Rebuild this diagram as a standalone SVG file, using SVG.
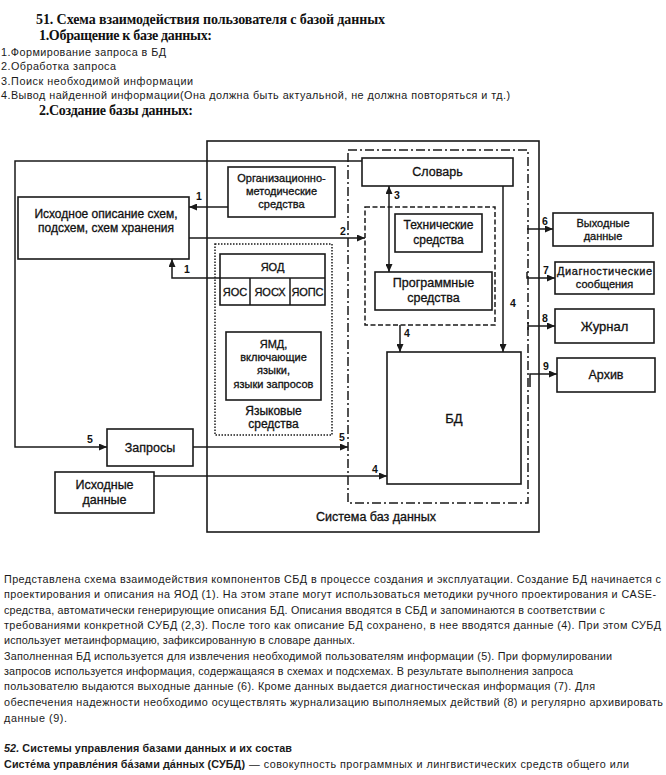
<svg xmlns="http://www.w3.org/2000/svg" width="666" height="775" viewBox="0 0 666 775">
<style>
.h{font-family:"Liberation Serif","Times New Roman",serif;font-weight:bold;font-size:14px;fill:#111}
.p{font-family:"Liberation Sans",Arial,sans-serif;font-size:10.8px;fill:#1a1a1a}
.b{fill:#fff;stroke:#1a1a1a;stroke-width:1.6}
.l{fill:none;stroke:#1a1a1a;stroke-width:1.5}
.t{font-family:"Liberation Sans",Arial,sans-serif;font-size:12px;fill:#111;stroke:#111;stroke-width:0.3;text-anchor:middle}
.s{font-size:11px}
.n{font-family:"Liberation Sans",Arial,sans-serif;font-size:10.5px;font-weight:bold;fill:#111}
</style>
<defs>
<marker id="a" markerUnits="userSpaceOnUse" markerWidth="9" markerHeight="7" refX="8" refY="3.5" orient="auto"><path d="M0,0 L8,3.5 L0,7 Z" fill="#1a1a1a"/></marker>
<marker id="as" markerUnits="userSpaceOnUse" markerWidth="9" markerHeight="7" refX="0" refY="3.5" orient="auto"><path d="M8,0 L0,3.5 L8,7 Z" fill="#1a1a1a"/></marker>
</defs>
<rect width="666" height="775" fill="#fff"/>

<g id="header">
<text class="h" x="36" y="24" textLength="349">51. Схема взаимодействия пользователя с базой данных</text>
<text class="h" x="39" y="40" textLength="173">1.Обращение к базе данных:</text>
<text class="p" x="1" y="56" textLength="165">1.Формирование запроса в БД</text>
<text class="p" x="1" y="70" textLength="115">2.Обработка запроса</text>
<text class="p" x="1" y="85" textLength="192">3.Поиск необходимой информации</text>
<text class="p" x="1" y="99" textLength="509">4.Вывод найденной  информации(Она должна быть актуальной, не должна повторяться и тд.)</text>
<text class="h" x="39" y="115" textLength="154">2.Создание базы данных:</text>
</g>

<g id="system">
<rect x="207" y="141" width="332" height="391" fill="none" stroke="#1a1a1a" stroke-width="1.6"/>
<text class="t" x="376" y="521" style="font-size:12.5px">Система баз данных</text>
</g>
<g id="dbms-core">
<rect x="348" y="150" width="180" height="353" fill="none" stroke="#1a1a1a" stroke-width="1.5" stroke-dasharray="9,3,2,3"/>
</g>
<g id="lang-tools">
<rect x="215" y="244" width="117" height="191" fill="none" stroke="#1a1a1a" stroke-width="1.5" stroke-dasharray="1.5,1.5"/>
<text class="t" x="273.5" y="415">Языковые</text>
<text class="t" x="273.5" y="428">средства</text>
</g>
<g id="hw-sw">
<rect x="365" y="207" width="130" height="118" fill="none" stroke="#1a1a1a" stroke-width="1.5" stroke-dasharray="5,2.5"/>
</g>

<g id="connectors">
<line class="l" x1="228" y1="207" x2="189" y2="207" marker-end="url(#a)"/>
<path class="l" d="M220,278 H172 V259" marker-end="url(#a)"/>
<line class="l" x1="189" y1="238" x2="365" y2="238" marker-end="url(#a)"/>
<line class="l" x1="389" y1="186" x2="389" y2="272" marker-start="url(#as)" marker-end="url(#a)"/>
<line class="l" x1="400" y1="325" x2="400" y2="352" marker-end="url(#a)"/>
<line class="l" x1="503" y1="186" x2="503" y2="352" marker-end="url(#a)"/>
<line class="l" x1="154" y1="476" x2="387" y2="476" marker-end="url(#a)"/>
<path class="l" d="M362,161 H15 V447 H107" marker-end="url(#a)"/>
<line class="l" x1="193" y1="447" x2="348" y2="447" marker-end="url(#a)"/>
<line class="l" x1="527" y1="229" x2="553" y2="229" marker-end="url(#a)"/>
<path class="l" d="M527,272 V278 H555" marker-end="url(#a)"/>
<path class="l" d="M528,322 V330"/>
<line class="l" x1="528" y1="326" x2="555" y2="326" marker-end="url(#a)"/>
<path class="l" d="M530,387 V374 H557" marker-end="url(#a)"/>
<text class="n" x="196" y="200">1</text>
<text class="n" x="184" y="273">1</text>
<text class="n" x="340" y="235">2</text>
<text class="n" x="394" y="199">3</text>
<text class="n" x="404" y="337">4</text>
<text class="n" x="510" y="307">4</text>
<text class="n" x="372" y="473">4</text>
<text class="n" x="87" y="443">5</text>
<text class="n" x="339" y="441">5</text>
<text class="n" x="542" y="225">6</text>
<text class="n" x="543" y="274">7</text>
<text class="n" x="542" y="322">8</text>
<text class="n" x="543" y="370">9</text>
</g>

<g id="src-desc"><rect class="b" x="18" y="197" width="171" height="62"/>
<text class="t" x="106" y="218">Исходное описание схем,</text>
<text class="t" x="106" y="232">подсхем, схем хранения</text></g>
<g id="org"><rect class="b" x="228" y="167" width="107" height="50"/>
<text class="t s" x="281.5" y="182">Организационно-</text>
<text class="t s" x="281.5" y="195">методические</text>
<text class="t s" x="281.5" y="208">средства</text></g>
<g id="yod"><rect class="b" x="220" y="254" width="105" height="51"/>
<path class="l" d="M220,278 H325 M250,278 V305 M290,278 V305"/>
<text class="t s" x="272.5" y="271">ЯОД</text>
<text class="t s" x="235" y="296">ЯОС</text>
<text class="t s" x="270" y="296">ЯОСХ</text>
<text class="t s" x="307.5" y="296" textLength="32">ЯОПС</text></g>
<g id="yamd"><rect class="b" x="226" y="332" width="95" height="68"/>
<text class="t s" x="273.5" y="348">ЯМД,</text>
<text class="t s" x="273.5" y="361">включающие</text>
<text class="t s" x="273.5" y="374">языки,</text>
<text class="t s" x="273.5" y="388">языки запросов</text></g>
<g id="dict"><rect class="b" x="362" y="158" width="151" height="28"/>
<text class="t" x="437.5" y="176" style="font-size:12.5px">Словарь</text></g>
<g id="hw"><rect class="b" x="395" y="214" width="87" height="38"/>
<text class="t" x="438.5" y="229">Технические</text>
<text class="t" x="438.5" y="244">средства</text></g>
<g id="sw"><rect class="b" x="375" y="272" width="117" height="38"/>
<text class="t" x="433.5" y="287" style="font-size:12.5px">Программные</text>
<text class="t" x="433.5" y="302" style="font-size:12.5px">средства</text></g>
<g id="db"><rect class="b" x="387" y="352" width="134" height="132"/>
<text class="t" x="454" y="423" style="font-size:13px">БД</text></g>
<g id="queries"><rect class="b" x="107" y="429" width="86" height="37"/>
<text class="t" x="150" y="452" style="font-size:12.5px">Запросы</text></g>
<g id="src-data"><rect class="b" x="55" y="472" width="99" height="41"/>
<text class="t" x="104.5" y="489" style="font-size:12.5px">Исходные</text>
<text class="t" x="104.5" y="504" style="font-size:12.5px">данные</text></g>
<g id="out"><rect class="b" x="553" y="213" width="100" height="33"/>
<text class="t s" x="603" y="227">Выходные</text>
<text class="t s" x="603" y="240">данные</text></g>
<g id="diag"><rect class="b" x="555" y="262" width="99" height="32"/>
<text class="t s" x="604.5" y="275" textLength="95">Диагностические</text>
<text class="t s" x="604.5" y="288">сообщения</text></g>
<g id="journal"><rect class="b" x="555" y="309" width="99" height="34"/>
<text class="t" x="604.5" y="331" style="font-size:13px">Журнал</text></g>
<g id="archive"><rect class="b" x="557" y="358" width="98" height="34"/>
<text class="t" x="606" y="379" style="font-size:12.5px">Архив</text></g>

<g id="body-text">
<text class="p" x="4" y="583" textLength="657">Представлена схема взаимодействия компонентов СБД в процессе создания и эксплуатации. Создание БД начинается с</text>
<text class="p" x="4" y="598" textLength="652">проектирования и описания на ЯОД (1). На этом этапе могут использоваться методики ручного проектирования и CASE-</text>
<text class="p" x="4" y="614" textLength="601">средства, автоматически генерирующие описания БД. Описания вводятся в СБД и запоминаются в соответствии с</text>
<text class="p" x="4" y="629" textLength="657">требованиями конкретной СУБД (2,3). После того как описание БД сохранено, в нее вводятся данные (4). При этом СУБД</text>
<text class="p" x="4" y="644" textLength="351">использует метаинформацию, зафиксированную в словаре данных.</text>
<text class="p" x="4" y="660" textLength="608">Заполненная БД используется для извлечения необходимой пользователям информации (5). При формулировании</text>
<text class="p" x="4" y="675" textLength="569">запросов используется информация, содержащаяся в схемах и подсхемах. В результате выполнения запроса</text>
<text class="p" x="4" y="690" textLength="591">пользователю выдаются выходные данные (6). Кроме данных выдается диагностическая информация (7). Для</text>
<text class="p" x="4" y="706" textLength="659">обеспечения надежности необходимо осуществлять журнализацию выполняемых действий (8) и регулярно архивировать</text>
<text class="p" x="4" y="722" textLength="63">данные (9).</text>
<text class="p" x="4" y="752" font-weight="bold" textLength="288"><tspan font-style="italic">52.</tspan> Системы управления базами данных и их состав</text>
<text class="p" x="4" y="768" font-weight="bold" textLength="241">Систе́ма управле́ния ба́зами да́нных (СУБД)</text>
<text class="p" x="249" y="768" textLength="380">— совокупность программных и лингвистических средств общего или</text>
</g>
</svg>
